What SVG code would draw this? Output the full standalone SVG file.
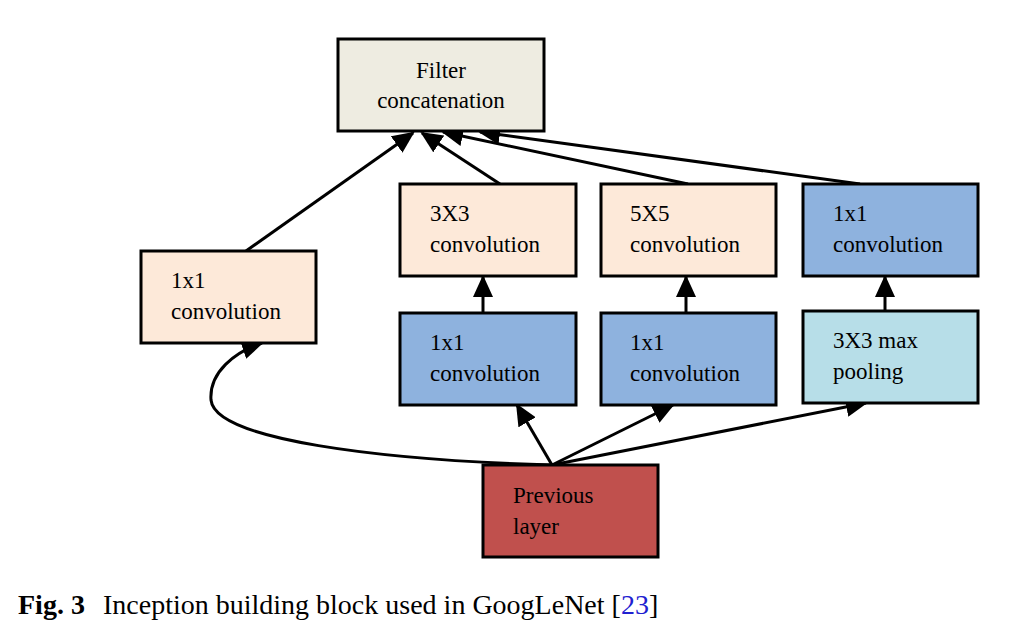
<svg xmlns="http://www.w3.org/2000/svg" width="1022" height="639" viewBox="0 0 1022 639">
<defs>
<style>
.box{stroke:#000;stroke-width:3}
.t{font-family:"Liberation Serif","Times New Roman",serif;font-size:23px;fill:#000}
.c{fill:none;stroke:#000;stroke-width:3}
.cap{font-family:"Liberation Serif","Times New Roman",serif;font-size:28px;fill:#000}
</style>
<marker id="ah" viewBox="0 0 22 20" refX="20" refY="10" markerWidth="22" markerHeight="20" orient="auto" markerUnits="userSpaceOnUse">
<path d="M0,0 L22,10 L0,20 z" fill="#000"/>
</marker>
</defs>
<rect width="1022" height="639" fill="#fff"/>
<g id="connectors">
<path class="c" d="M246,251 L413,133" marker-end="url(#ah)"/>
<path class="c" d="M500,184 L422,133" marker-end="url(#ah)"/>
<path class="c" d="M688,184 L443,132" marker-end="url(#ah)"/>
<path class="c" d="M860,184 L480,132" marker-end="url(#ah)"/>
<path class="c" d="M483,313 L483,277" marker-end="url(#ah)"/>
<path class="c" d="M686,313 L686,277" marker-end="url(#ah)"/>
<path class="c" d="M885,311 L885,277" marker-end="url(#ah)"/>
<path class="c" d="M552,465 L517,405" marker-end="url(#ah)"/>
<path class="c" d="M552,465 L673,405" marker-end="url(#ah)"/>
<path class="c" d="M552,465 L866,403" marker-end="url(#ah)"/>
<path class="c" d="M552,465 C380,460 215,440 211,400 C209,372 235,352 262,343" marker-end="url(#ah)"/>
</g>
<g id="filter-concat">
<rect class="box" x="338" y="39" width="206" height="92" fill="#EEECE1"/>
<text class="t" x="441" y="78" text-anchor="middle">Filter</text>
<text class="t" x="441" y="108" text-anchor="middle">concatenation</text>
</g>
<g id="conv3x3">
<rect class="box" x="400" y="184" width="176" height="92" fill="#FDE9D9"/>
<text class="t" x="430" y="221">3X3</text>
<text class="t" x="430" y="252">convolution</text>
</g>
<g id="conv5x5">
<rect class="box" x="601" y="184" width="175" height="92" fill="#FDE9D9"/>
<text class="t" x="630" y="221">5X5</text>
<text class="t" x="630" y="252">convolution</text>
</g>
<g id="conv1x1-pool">
<rect class="box" x="803" y="184" width="175" height="92" fill="#8EB2DE"/>
<text class="t" x="833" y="221">1x1</text>
<text class="t" x="833" y="252">convolution</text>
</g>
<g id="conv1x1-left">
<rect class="box" x="141" y="251" width="175" height="92" fill="#FDE9D9"/>
<text class="t" x="171" y="288">1x1</text>
<text class="t" x="171" y="319">convolution</text>
</g>
<g id="conv1x1-a">
<rect class="box" x="400" y="313" width="176" height="92" fill="#8EB2DE"/>
<text class="t" x="430" y="350">1x1</text>
<text class="t" x="430" y="381">convolution</text>
</g>
<g id="conv1x1-b">
<rect class="box" x="601" y="313" width="175" height="92" fill="#8EB2DE"/>
<text class="t" x="630" y="350">1x1</text>
<text class="t" x="630" y="381">convolution</text>
</g>
<g id="maxpool">
<rect class="box" x="803" y="311" width="175" height="92" fill="#B7DEE8"/>
<text class="t" x="833" y="348">3X3 max</text>
<text class="t" x="833" y="379">pooling</text>
</g>
<g id="previous">
<rect class="box" x="483" y="465" width="175" height="92" fill="#C0504D"/>
<text class="t" x="513" y="503">Previous</text>
<text class="t" x="513" y="534">layer</text>
</g>
<g id="caption">
<text class="cap" x="18" y="614"><tspan font-weight="bold">Fig. 3</tspan><tspan x="103">Inception building block used in GoogLeNet [</tspan><tspan fill="#2020D0">23</tspan>]</text>
</g>
</svg>
